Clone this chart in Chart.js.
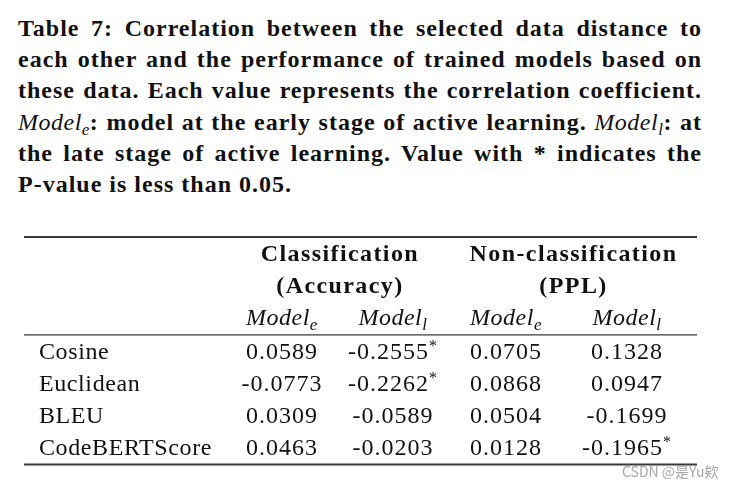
<!DOCTYPE html>
<html>
<head>
<meta charset="utf-8">
<script src="https://cdn.jsdelivr.net/npm/chart.js@4.4.1/dist/chart.umd.min.js"></script>
<style>
  html, body { margin: 0; padding: 0; background: #fff; width: 732px; height: 488px; overflow: hidden; }
  #caption {
    position: absolute; left: 18px; top: 13px; width: 684px;
    font-family: "Liberation Serif", serif; font-weight: bold; font-size: 24px;
    line-height: 31.2px; color: #111; letter-spacing: 1px;
  }
  #caption div { text-align: justify; text-align-last: justify; white-space: nowrap; }
  #caption div.last { text-align-last: left; }
  #caption i { font-weight: normal; letter-spacing: 0.5px; }
  #caption sub { font-size: 17px; vertical-align: -5px; line-height: 0; }
  #wrap { position: absolute; left: 0; top: 220px; width: 732px; height: 268px; }
  #mark {
    position: absolute; left: 622px; top: 461px;
    font-family: "Noto Sans CJK SC", "Noto Sans", sans-serif; font-size: 14px; color: #a8a8a8;
  }
</style>
</head>
<body>
<div id="caption">
  <div>Table 7: Correlation between the selected data distance to</div>
  <div>each other and the performance of trained models based on</div>
  <div>these data. Each value represents the correlation coefficient.</div>
  <div><i>Model<sub>e</sub></i>: model at the early stage of active learning. <i>Model<sub>l</sub></i>: at</div>
  <div>the late stage of active learning. Value with * indicates the</div>
  <div class="last">P-value is less than 0.05.</div>
</div>
<div id="wrap"><canvas id="tbl"></canvas></div>
<div id="mark">CSDN @是Yu欸</div>

<script>
// 1. DATOS DE LA TABLA
const metrics = ['Cosine', 'Euclidean', 'BLEU', 'CodeBERTScore'];
const clsEarly = [0.0589, -0.0773, 0.0309, 0.0463];
const clsLate = [-0.2555, -0.2262, -0.0589, -0.0203];
const nonEarly = [0.0705, 0.0868, 0.0504, 0.0128];
const nonLate = [0.1328, 0.0947, -0.1699, -0.1965];
const clsLateSig = [true, true, false, false];
const nonLateSig = [false, false, false, true];
const groupTitles = [['Classification', '(Accuracy)'], ['Non-classification', '(PPL)']];
const modelHeads = [['Model', 'e'], ['Model', 'l'], ['Model', 'e'], ['Model', 'l']];

// 2. LAYOUT (unidades de escala: 1 columna = 115px, 1 fila = 32px)
const colPos = [1, 1.965, 2.948, 4];
const groupPos = [1.504, 3.535];
const labelPos = -1.113;
const ruleX = [-1.243, 4.609];
const rules = [{ y: -0.75, w: 2 }, { y: 2.31, w: 1.3 }, { y: 6.36, w: 2 }];
const dataRow0 = 3.05;

const SERIF = '"Liberation Serif", serif';
const cellCols = [
  { vals: clsEarly, sig: [] },
  { vals: clsLate, sig: clsLateSig },
  { vals: nonEarly, sig: [] },
  { vals: nonLate, sig: nonLateSig }
];

const datasets = [];
// etiquetas de fila
datasets.push({
  data: metrics.map((m, i) => ({ x: labelPos, y: dataRow0 + i })),
  cellText: metrics, align: 'left', star: [], pointRadius: 0
});
// valores
cellCols.forEach((c, ci) => {
  datasets.push({
    data: c.vals.map((v, i) => ({ x: colPos[ci], y: dataRow0 + i })),
    cellText: c.vals.map(v => v.toFixed(4)), align: 'center', star: c.sig, pointRadius: 0
  });
});
// reglas horizontales
rules.forEach(r => {
  datasets.push({
    data: [{ x: ruleX[0], y: r.y }, { x: ruleX[1], y: r.y }],
    showLine: true, borderColor: '#3a3a3a', borderWidth: r.w, pointRadius: 0
  });
});

// 3. PLUGIN QUE ESCRIBE LAS CELDAS
const tablePlugin = {
  id: 'tableText',
  afterDatasetsDraw(chart) {
    const { ctx, scales: { x, y } } = chart;
    ctx.save();
    ctx.fillStyle = '#111';
    ctx.textBaseline = 'alphabetic';

    // encabezados de grupo
    ctx.font = 'bold 24px ' + SERIF;
    ctx.letterSpacing = '1.4px';
    ctx.textAlign = 'center';
    groupTitles.forEach((g, gi) => {
      g.forEach((line, li) => ctx.fillText(line, x.getPixelForValue(groupPos[gi]), y.getPixelForValue(li)));
    });

    // Model_e / Model_l
    ctx.letterSpacing = '0.5px';
    ctx.textAlign = 'left';
    modelHeads.forEach((h, i) => {
      ctx.font = 'italic 24px ' + SERIF;
      const w1 = ctx.measureText(h[0]).width;
      ctx.font = 'italic 17px ' + SERIF;
      const w2 = ctx.measureText(h[1]).width;
      const x0 = x.getPixelForValue(colPos[i]) - (w1 + w2) / 2;
      const yb = y.getPixelForValue(2);
      ctx.font = 'italic 24px ' + SERIF;
      ctx.fillText(h[0], x0, yb);
      ctx.font = 'italic 17px ' + SERIF;
      ctx.fillText(h[1], x0 + w1, yb + 5);
    });

    // celdas
    chart.data.datasets.forEach((ds, di) => {
      if (!ds.cellText) return;
      const meta = chart.getDatasetMeta(di);
      meta.data.forEach((pt, i) => {
        const txt = ds.cellText[i];
        const ls = ds.align === 'left' ? '0.6px' : '1px';
        ctx.font = '24px ' + SERIF;
        ctx.letterSpacing = ls;
        const w1 = ctx.measureText(txt).width;
        let w2 = 0;
        if (ds.star[i]) { ctx.font = '16px ' + SERIF; w2 = ctx.measureText('*').width; }
        const x0 = ds.align === 'left' ? pt.x : pt.x - (w1 + w2) / 2;
        ctx.textAlign = 'left';
        ctx.font = '24px ' + SERIF;
        ctx.letterSpacing = ls;
        ctx.fillText(txt, x0, pt.y);
        if (ds.star[i]) {
          ctx.font = '16px ' + SERIF;
          ctx.fillText('*', x0 + w1, pt.y - 8);
        }
      });
    });
    ctx.restore();
  }
};

// 4. GRÁFICA
function drawTable() {
  new Chart(document.getElementById('tbl'), {
    type: 'scatter',
    data: { datasets: datasets },
    options: {
      responsive: true,
      maintainAspectRatio: false,
      animation: false,
      layout: { padding: 0 },
      plugins: { legend: { display: false }, tooltip: { enabled: false } },
      scales: {
        x: { type: 'linear', display: false, min: -1.452, max: 4.913 },
        y: { type: 'linear', display: false, reverse: true, min: -1.281, max: 7.094 }
      }
    },
    plugins: [tablePlugin]
  });
}

Promise.all([
  document.fonts.load('24px "Liberation Serif"'),
  document.fonts.load('bold 24px "Liberation Serif"'),
  document.fonts.load('italic 24px "Liberation Serif"')
]).then(drawTable, drawTable);
</script>
</body>
</html>
